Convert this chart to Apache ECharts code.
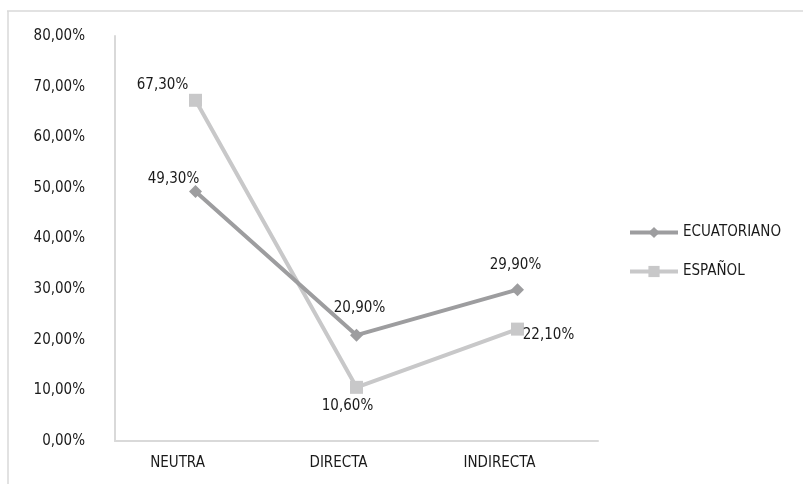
<!DOCTYPE html>
<html><head><meta charset="utf-8">
<script src="https://cdn.jsdelivr.net/npm/echarts@6/dist/echarts.min.js"></script>
<style>html,body{margin:0;padding:0;background:#fff}#c{width:803px;height:484px}</style>
</head><body><div id="c"></div>
<script>
const categories = ['NEUTRA', 'DIRECTA', 'INDIRECTA'];
const ecuatoriano = [49.3, 20.9, 29.9];
const espanol = [67.3, 10.6, 22.1];
const yTicks = [0, 10, 20, 30, 40, 50, 60, 70, 80];

const FONT = '"Liberation Sans Narrow", "DejaVu Sans Condensed", "Roboto Condensed", sans-serif';
const TXT = '#1a1a1a';
const fmt = v => v.toFixed(2).replace('.', ',') + '%';

const ecuLabelOffsets = [[-22, -12], [3, -27], [-2, -25]];
const espLabelOffsets = [[-33, -15], [-9, 19], [31, 6]];

function mkData(vals, offs) {
  return vals.map((v, i) => ({
    value: v,
    label: { show: true, position: 'inside', offset: offs[i] }
  }));
}

const chart = echarts.init(document.getElementById('c'), null, { renderer: 'canvas' });
chart.setOption({
  animation: false,
  textStyle: { fontFamily: FONT },
  graphic: [
    { type: 'line', shape: { x1: 7, y1: 11, x2: 803, y2: 11 }, style: { stroke: '#d9d9d9', lineWidth: 1.5 } },
    { type: 'line', shape: { x1: 8, y1: 11, x2: 8, y2: 484 }, style: { stroke: '#d9d9d9', lineWidth: 1.5 } }
  ],
  grid: { left: 115, right: 205, top: 36, bottom: 43 },
  legend: {
    orient: 'vertical',
    left: 623,
    top: 220,
    itemGap: 24,
    itemWidth: 48,
    itemHeight: 14,
    lineStyle: { width: 4 },
    textStyle: { fontFamily: FONT, fontSize: 15, color: TXT },
    data: ['ECUATORIANO', 'ESPAÑOL']
  },
  xAxis: {
    type: 'category',
    data: categories,
    boundaryGap: true,
    axisLine: { lineStyle: { color: '#d9d9d9', width: 2 } },
    axisTick: { show: false },
    axisLabel: { color: TXT, fontSize: 15, fontFamily: FONT, margin: 15, padding: [0, 36, 0, 0] }
  },
  yAxis: {
    type: 'value',
    min: 0, max: 80, interval: 10,
    axisLine: { show: true, lineStyle: { color: '#d9d9d9', width: 2 } },
    axisTick: { show: false },
    splitLine: { show: false },
    axisLabel: {
      color: TXT, fontSize: 15, fontFamily: FONT, margin: 30,
      formatter: v => yTicks.includes(v) ? fmt(v) : ''
    }
  },
  series: [
    {
      name: 'ECUATORIANO',
      type: 'line',
      data: mkData(ecuatoriano, ecuLabelOffsets),
      symbol: 'diamond',
      symbolSize: 13,
      lineStyle: { color: '#9d9d9f', width: 4 },
      itemStyle: { color: '#9d9d9f' },
      label: { color: TXT, fontSize: 15, fontFamily: FONT, formatter: p => fmt(p.value) },
      z: 3
    },
    {
      name: 'ESPAÑOL',
      type: 'line',
      data: mkData(espanol, espLabelOffsets),
      symbol: 'rect',
      symbolSize: 13,
      lineStyle: { color: '#c8c8c9', width: 4 },
      itemStyle: { color: '#c8c8c9' },
      label: { color: TXT, fontSize: 15, fontFamily: FONT, formatter: p => fmt(p.value) },
      z: 2
    }
  ]
});
</script></body></html>
